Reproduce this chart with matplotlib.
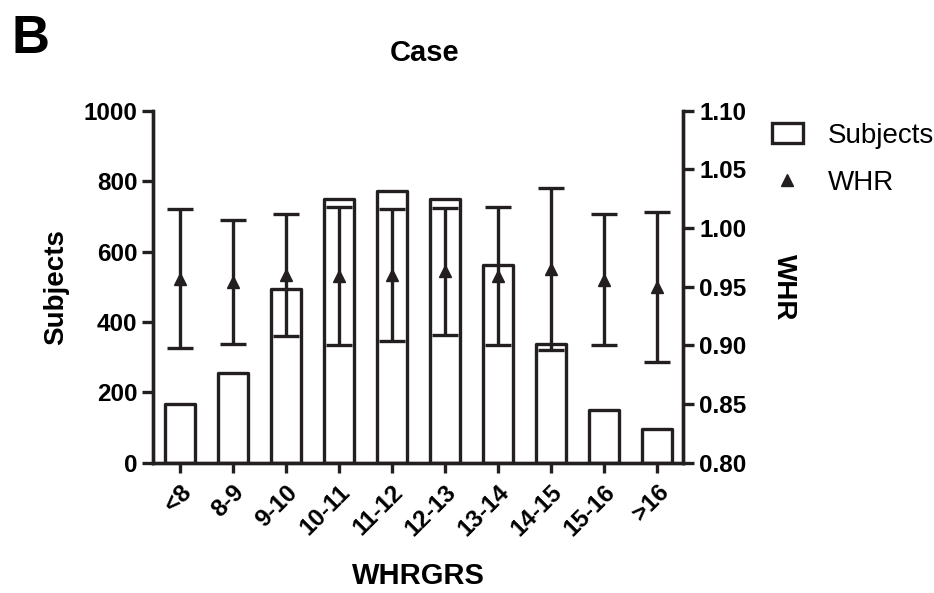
import matplotlib.pyplot as plt
from matplotlib.patches import Rectangle
from matplotlib.lines import Line2D

plt.rcParams['font.family'] = ['Liberation Sans', 'DejaVu Sans']

# --- data ---
groups = ['<8', '8-9', '9-10', '10-11', '11-12', '12-13', '13-14', '14-15', '15-16', '>16']
subjects = [166, 254, 493, 748, 773, 750, 562, 336, 151, 95]
whr_mean = [0.957, 0.954, 0.960, 0.959, 0.960, 0.963, 0.959, 0.965, 0.956, 0.950]
whr_sd = [0.059, 0.053, 0.052, 0.059, 0.056, 0.054, 0.059, 0.069, 0.056, 0.064]

lw = 2.4
x = range(len(groups))

fig = plt.figure(figsize=(9.34, 5.93), dpi=100)
ax = fig.add_axes([0.1641, 0.2197, 0.5675, 0.5936])
ax2 = ax.twinx()

# bars (left axis)
ax.bar(x, subjects, width=0.56, color='white', edgecolor='#231f20',
       linewidth=lw, joinstyle='round', zorder=2)
ax.set_xlim(-0.5, len(groups) - 0.5)
ax.set_ylim(0, 1000)
ax.set_yticks(range(0, 1001, 200))
ax.set_xticks(list(x))
ax.set_xticklabels(groups, rotation=45, ha='right', rotation_mode='anchor',
                   fontsize=17.5, fontweight='bold')
ax.set_ylabel('Subjects', fontsize=20, fontweight='bold', labelpad=10)
ax.set_xlabel('WHRGRS', fontsize=21, fontweight='bold', labelpad=15)

# WHR mean +/- SD (right axis)
ax2.errorbar(x, whr_mean, yerr=whr_sd, fmt='^', color='#231f20', markersize=9,
             elinewidth=lw, capsize=9.5, capthick=lw)
ax2.set_ylim(0.80, 1.10)
ax2.set_yticks([0.80, 0.85, 0.90, 0.95, 1.00, 1.05, 1.10])
ax2.set_yticklabels(['%.2f' % v for v in ax2.get_yticks()])
ax2.set_ylabel('WHR', fontsize=20, fontweight='bold', rotation=270, labelpad=36)

for a in (ax, ax2):
    a.spines['top'].set_visible(False)
    for s in a.spines.values():
        s.set_linewidth(lw)
        s.set_color('#231f20')
    a.tick_params(width=lw, length=8, color='#231f20', labelsize=17.5)
    for lab in a.get_yticklabels():
        lab.set_fontweight('bold')
ax.tick_params(axis='x', length=7, pad=6)

fig.text(0.455, 0.91, 'Case', fontsize=21, fontweight='bold', ha='center', va='center')
fig.text(0.012, 0.935, 'B', fontsize=38, fontweight='bold', ha='left', va='center')

handles = [Rectangle((0, 0), 1, 1, facecolor='white', edgecolor='#231f20', linewidth=lw),
           Line2D([], [], marker='^', color='#231f20', linestyle='none', markersize=9)]
fig.legend(handles, ['Subjects', 'WHR'], loc='upper left', bbox_to_anchor=(0.8, 0.835),
           frameon=False, fontsize=20, handlelength=1.1, handleheight=0.75,
           handletextpad=0.9, labelspacing=0.75)

plt.savefig('out.png', dpi=100)
